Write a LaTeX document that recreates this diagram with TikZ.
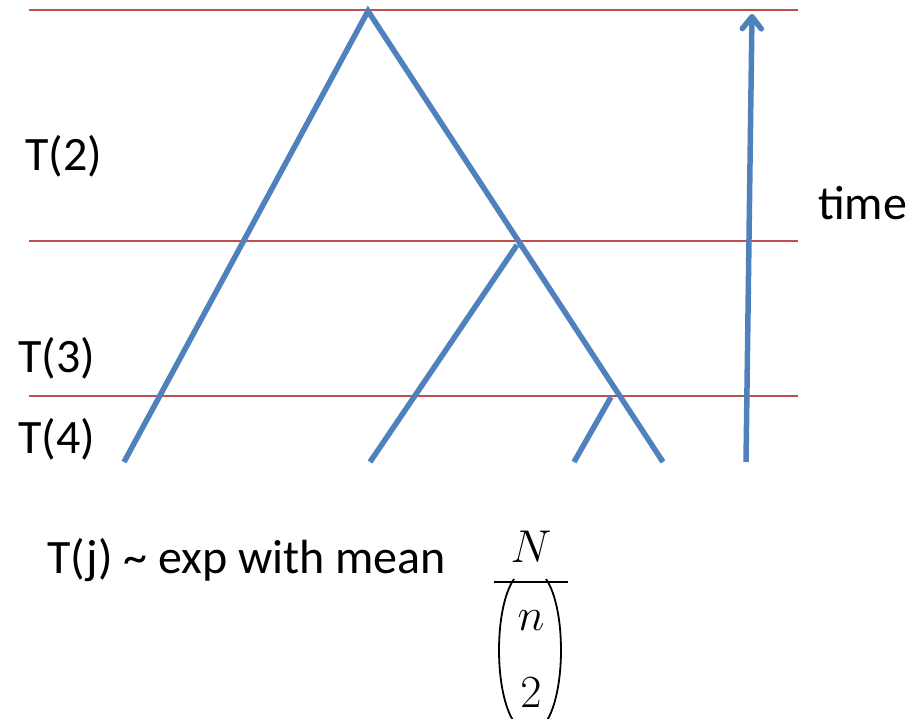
\RequirePackage{fix-cm}
\documentclass[tikz,border=0pt]{standalone}
\usepackage{fontspec}
\setmainfont{Carlito}
\usetikzlibrary{arrows.meta}

\definecolor{treeblue}{RGB}{79,129,189}
\definecolor{timered}{RGB}{192,80,77}

\begin{document}
\begin{tikzpicture}[x=1pt,y=-1pt,
  tline/.style={timered,line width=1.3pt},
  branch/.style={treeblue,line width=5.5pt},
  timearrow/.style={branch,-{Straight Barb[length=12pt,width=19pt,round]}},
  lab/.style={font=\fontsize{48}{56}\selectfont,inner sep=0pt,anchor=base west},
  fr/.style={font=\fontsize{46}{56}\selectfont,inner sep=0pt,anchor=base}]
  \useasboundingbox (0,0) rectangle (912,718);
  % ---------------- event lines ----------------
  \foreach \y in {10,241,396}
    \draw[tline] (29,\y) -- (798,\y);
  % ---------------- genealogy ----------------
  \coordinate (root) at (368,11);
  \coordinate (m2) at (517,245);
  \coordinate (m3) at (611,397);
  \coordinate (leafA) at (124,462);
  \coordinate (leafB) at (370,462);
  \coordinate (leafC) at (574,462);
  \coordinate (leafD) at (663,462);
  \draw[branch] (leafA) -- (root) -- (leafD);
  \draw[branch] (m2) -- (leafB);
  \draw[branch] (m3) -- (leafC);
  % time axis
  \coordinate (tbot) at (746,462);
  \coordinate (ttop) at (752,14);
  \draw[timearrow] (tbot) -- (ttop);
  \node[lab] (time) at (818,219) {time};
  % interval labels
  \node[lab] (t2) at (25,170) {T(2)};
  \node[lab] (t3) at (18,372) {T(3)};
  \node[lab] (t4) at (18,453) {T(4)};
  % ---------------- mean of T(j) ----------------
  \node[lab] (mean) at (47,573) {T(j) \char`\~\ exp with mean};
  \node[fr] (num) at (531,562) {$N$};
  \draw[line width=1.8pt] (494,582) -- (568,582);
  \node[fr] (top) at (531,630) {$n$};
  \node[fr] (bot) at (531,707) {$2$};
  \draw[line width=1.8pt] (514,579) .. controls (494,608) and (494,692) .. (514,722);
  \draw[line width=1.8pt] (546,579) .. controls (566,608) and (566,692) .. (546,722);
\end{tikzpicture}
\end{document}
